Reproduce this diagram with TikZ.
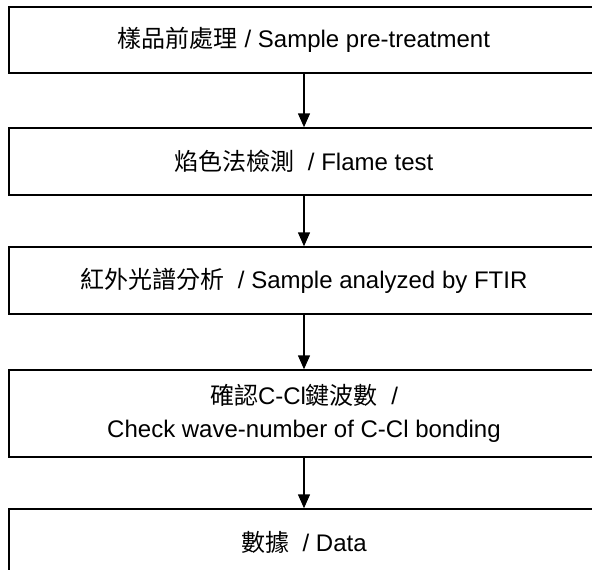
\documentclass[tikz,border=0pt]{standalone}
\usepackage{fontspec}
\setmainfont{Liberation Sans}
\newfontfamily\cjk{Noto Sans CJK TC}
\usetikzlibrary{arrows.meta}
\begin{document}
\begin{tikzpicture}[x=1pt,y=-1pt,
  stepbox/.style={draw, line width=1.5pt, minimum width=590pt, inner sep=0pt, align=center, font=\fontsize{24}{33}\selectfont},
  flow/.style={line width=1.5pt, -{Triangle[length=14pt,width=12pt]}}]
\useasboundingbox (0,0) rectangle (592,570);
\clip (0,0) rectangle (592,570);
\fill[white] (0,0) rectangle (592,570);
\node[stepbox, minimum height=66pt] (b1) at (304,40) {{\cjk 樣品前處理} / Sample pre-treatment};
\node[stepbox, minimum height=67pt] (b2) at (304,161.5) {{\cjk 焰色法檢測} \ / Flame test};
\node[stepbox, minimum height=67pt] (b3) at (304,280.5) {{\cjk 紅外光譜分析} \ / Sample analyzed by FTIR};
\node[stepbox, minimum height=87pt] (b4) at (304,413.5) {{\cjk 確認}C-Cl{\cjk 鍵波數} \ / \\ Check wave-number of C-Cl bonding};
\node[stepbox, minimum height=67pt] (b5) at (304,542.5) {{\cjk 數據} \ / Data};
\draw[flow] (b1.south) -- (b2.north);
\draw[flow] (b2.south) -- (b3.north);
\draw[flow] (b3.south) -- (b4.north);
\draw[flow] (b4.south) -- (b5.north);
\end{tikzpicture}
\end{document}
